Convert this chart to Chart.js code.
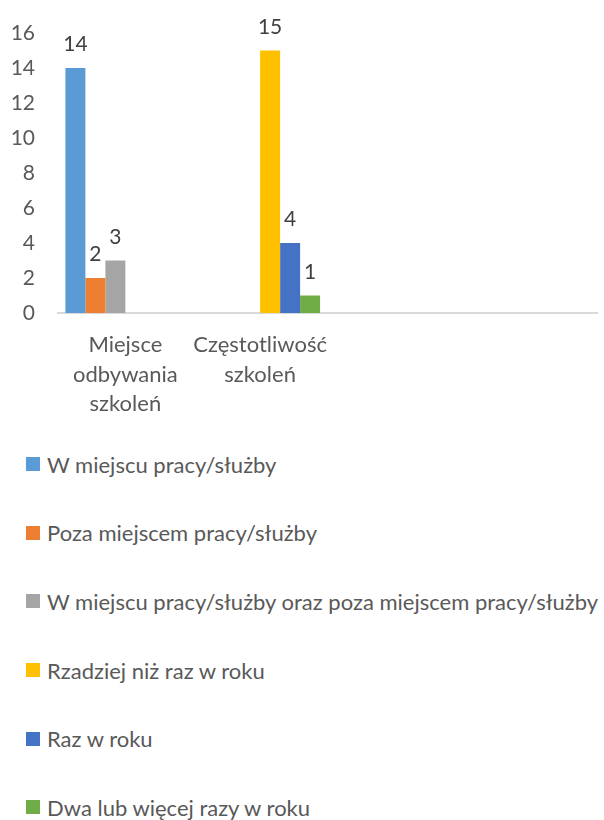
<!DOCTYPE html>
<html>
<head>
<meta charset="utf-8">
<script src="https://cdn.jsdelivr.net/npm/chart.js@4"></script>
<style>
  body { margin: 0; background: #fff; width: 604px; height: 820px; overflow: hidden; font-family: Lato, "Open Sans", sans-serif; }
  #wrap { position: relative; width: 604px; height: 430px; }
  #legend { padding-left: 26px; }
  .item { display: flex; align-items: center; height: 68.6px; color: #595959; font-size: 22px; white-space: nowrap; }
  .box { width: 14px; height: 14px; margin-right: 7px; flex: none; }
</style>
</head>
<body>
<div id="wrap"><canvas id="trainingChart"></canvas></div>
<div id="legend"></div>
<script>
// categories (last two are empty slots, as in the original sheet)
const categories = [['Miejsce', 'odbywania', 'szkoleń'], ['Częstotliwość', 'szkoleń'], '', ''];

const seriesNames = [
    'W miejscu pracy/służby',
    'Poza miejscem pracy/służby',
    'W miejscu pracy/służby oraz poza miejscem pracy/służby',
    'Rzadziej niż raz w roku',
    'Raz w roku',
    'Dwa lub więcej razy w roku'
];

// values per series (one per category)
const wMiejscu = [14, null, null, null];
const pozaMiejscem = [2, null, null, null];
const obaMiejsca = [3, null, null, null];
const rzadziej = [null, 15, null, null];
const razWRoku = [null, 4, null, null];
const dwaLubWiecej = [null, 1, null, null];

const yTicks = [0, 2, 4, 6, 8, 10, 12, 14, 16];

const colors = ['#5B9BD5', '#ED7D31', '#A5A5A5', '#FFC000', '#4472C4', '#70AD47'];
const values = [wMiejscu, pozaMiejscem, obaMiejsca, rzadziej, razWRoku, dwaLubWiecej];

// value labels above the bars
const barLabels = {
    id: 'barLabels',
    afterDatasetsDraw(chart) {
        const ctx = chart.ctx;
        ctx.save();
        ctx.font = '21px Lato';
        ctx.fillStyle = '#404040';
        ctx.textAlign = 'center';
        ctx.textBaseline = 'alphabetic';
        chart.data.datasets.forEach((ds, i) => {
            chart.getDatasetMeta(i).data.forEach((bar, j) => {
                const v = ds.data[j];
                if (v === null || v === undefined) return;
                ctx.fillText(v, bar.x, bar.y - 17);
            });
        });
        ctx.restore();
    }
};

// legend as a vertical list below the chart
const htmlLegend = {
    id: 'htmlLegend',
    afterUpdate(chart) {
        const el = document.getElementById('legend');
        el.innerHTML = '';
        chart.options.plugins.legend.labels.generateLabels(chart).forEach(item => {
            const row = document.createElement('div');
            row.className = 'item';
            const box = document.createElement('span');
            box.className = 'box';
            box.style.background = item.fillStyle;
            const txt = document.createElement('span');
            txt.textContent = item.text;
            row.appendChild(box);
            row.appendChild(txt);
            el.appendChild(row);
        });
    }
};

const ctx = document.getElementById('trainingChart').getContext('2d');
new Chart(ctx, {
    type: 'bar',
    data: {
        labels: categories,
        datasets: seriesNames.map((name, i) => ({
            label: name,
            data: values[i],
            backgroundColor: colors[i],
            categoryPercentage: 0.89,
            barPercentage: 1
        }))
    },
    options: {
        responsive: true,
        maintainAspectRatio: false,
        animation: false,
        layout: { padding: { top: 33, right: 7, left: 0, bottom: 0 } },
        plugins: {
            legend: { display: false },
            tooltip: { enabled: false }
        },
        scales: {
            x: {
                grid: { display: false },
                border: { display: true, color: '#D9D9D9', width: 2 },
                ticks: {
                    color: '#595959',
                    font: { family: 'Lato', size: 22, lineHeight: 1.35 },
                    padding: 9,
                    maxRotation: 0,
                    autoSkip: false
                },
                afterFit(scale) { scale.height = 117; }
            },
            y: {
                min: 0,
                max: 16,
                grid: { display: false },
                border: { display: false },
                afterBuildTicks(scale) { scale.ticks = yTicks.map(v => ({ value: v })); },
                ticks: {
                    color: '#595959',
                    font: { family: 'Lato', size: 21 },
                    padding: 15
                },
                afterFit(scale) { scale.width = 58; }
            }
        }
    },
    plugins: [barLabels, htmlLegend]
});
</script>
</body>
</html>
